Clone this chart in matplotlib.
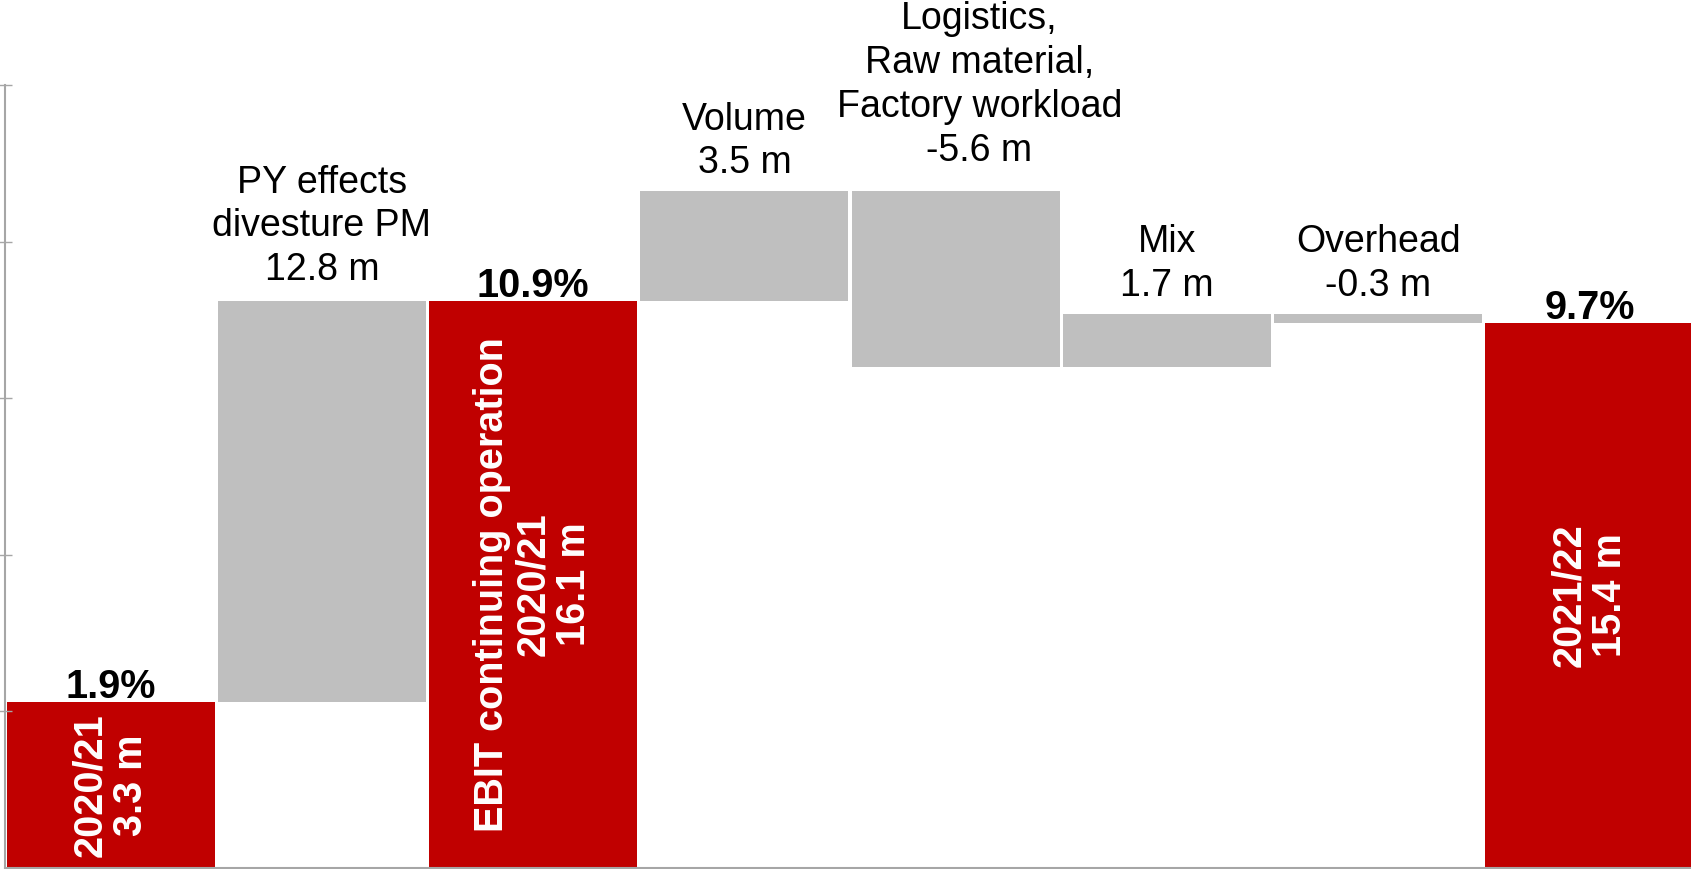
import matplotlib.pyplot as plt
import numpy as np

plt.rcParams['font.family'] = ['Liberation Sans', 'DejaVu Sans']

# waterfall data (EUR m)
labels = ['2020/21', 'PY effects\ndivesture PM', 'EBIT continuing operation\n2020/21',
          'Volume', 'Logistics,\nRaw material,\nFactory workload', 'Mix', 'Overhead', '2021/22']
values = [3.3, 12.8, 16.1, 3.5, -5.6, 1.7, -0.3, 15.4]
is_total = [True, False, True, False, False, False, False, True]
margins = ['1.9%', '', '10.9%', '', '', '', '', '9.7%']

RED = '#C00000'
GREY = '#BFBFBF'
AXIS = '#A6A6A6'
floor = -2.0  # value axis starts below zero, totals are drawn from the floor

# label nudges in points (the logistics label sits a bit right and higher)
nudge = {1: (0, 15), 4: (17, 22)}

fig = plt.figure(figsize=(16.91, 8.69), dpi=100)
ax = fig.add_axes([5 / 1691, 1 / 869, 1690 / 1691, 783 / 869])

x = np.arange(len(values))
bottoms, heights = [], []
running = 0.0
for v, tot in zip(values, is_total):
    if tot:
        running = v
        bottoms.append(floor)
        heights.append(v - floor)
    else:
        start = running
        running += v
        bottoms.append(min(start, running))
        heights.append(abs(v))

colors = [RED if t else GREY for t in is_total]
ax.bar(x, heights, bottom=bottoms, width=0.985, color=colors, linewidth=0)

for i, (lab, v, tot, m) in enumerate(zip(labels, values, is_total, margins)):
    top = bottoms[i] + heights[i]
    if tot:
        ax.text(i, (bottoms[i] + top) / 2, f'{lab}\n{v:.1f} m', rotation=90,
                ha='center', va='center', color='white', fontsize=28.5,
                fontweight='bold', multialignment='center', linespacing=1.1)
        ax.annotate(m, (i, top), xytext=(0, 3), textcoords='offset points',
                    ha='center', va='baseline', fontsize=28.5, fontweight='bold')
    else:
        dx, dy = nudge.get(i, (0, 13))
        ax.annotate(f'{lab}\n{v:.1f} m', (i, top), xytext=(dx, dy),
                    textcoords='offset points', ha='center', va='baseline',
                    fontsize=27, multialignment='center', linespacing=1.28)

ax.set_xlim(-0.5, len(values) - 0.5)
ax.set_ylim(floor, 23)
ax.set_yticks(np.arange(floor + 5, 23.1, 5))
ax.set_yticklabels([])
ax.set_xticks([])
for s in ['top', 'right']:
    ax.spines[s].set_visible(False)
for s in ['left', 'bottom']:
    ax.spines[s].set_color(AXIS)
    ax.spines[s].set_linewidth(1.5)
ax.tick_params(axis='y', direction='inout', length=9.5, width=1, color=AXIS)

fig.savefig('out.png', dpi=100)
